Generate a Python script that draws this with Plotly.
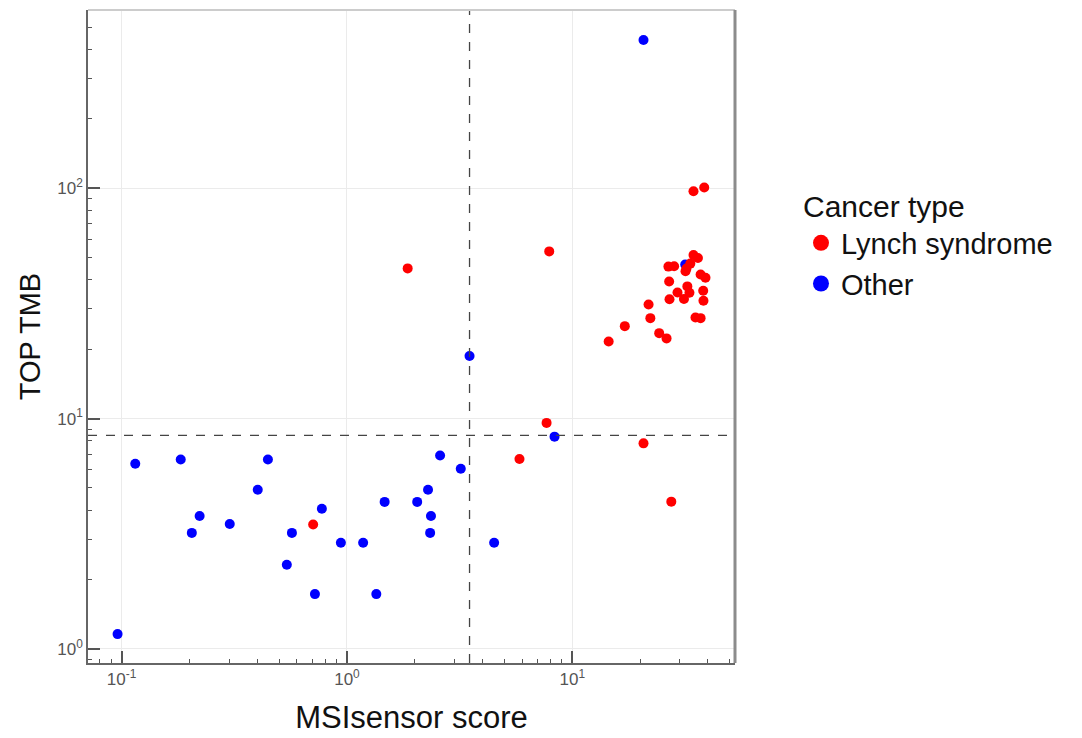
import plotly.graph_objects as go

# MSIsensor score vs TOP TMB, split by cancer type
other_msi = [20.7, 31.7, 3.50, 8.34, 0.115, 0.183, 0.446, 2.59, 3.20, 0.402, 2.29,
             1.47, 2.05, 0.774, 0.222, 2.36, 0.302, 0.205, 0.57, 2.34, 0.94, 1.18,
             4.5, 0.541, 0.721, 1.35, 0.096]
other_tmb = [440, 46.7, 18.7, 8.35, 6.37, 6.64, 6.64, 6.92, 6.06, 4.91, 4.91,
             4.35, 4.35, 4.06, 3.78, 3.78, 3.49, 3.19, 3.19, 3.19, 2.89, 2.89,
             2.89, 2.32, 1.73, 1.73, 1.16]

lynch_msi = [0.708, 1.86, 7.9, 7.69, 5.83, 20.7, 27.5, 14.5,
             38.5, 34.5, 34.5, 36.1, 26.7, 28.3, 33.4, 32.1, 31.8, 37.1, 39.0,
             26.9, 38.1, 32.4, 29.3, 33.1, 31.3, 27.0, 38.2, 21.8, 22.2, 35.2,
             37.1, 17.1, 24.3, 26.2]
lynch_tmb = [3.47, 44.9, 53.2, 9.58, 6.68, 7.81, 4.36, 21.6,
             100.7, 97.0, 51.3, 49.8, 45.7, 45.9, 47.1, 44.8, 43.6, 42.2, 40.9,
             39.4, 35.9, 37.5, 35.3, 35.2, 33.1, 33.0, 32.5, 31.3, 27.3, 27.5,
             27.3, 25.2, 23.5, 22.3]

msi_cutoff = 3.5
tmb_cutoff = 8.45

x_tickvals = [0.1, 1, 10]
x_ticktext = ["10<sup>-1</sup>", "10<sup>0</sup>", "10<sup>1</sup>"]
y_tickvals = [1, 10, 100]
y_ticktext = ["10<sup>0</sup>", "10<sup>1</sup>", "10<sup>2</sup>"]

RED = "#FF0000"
BLUE = "#0000FF"
FONT = "Arial, Liberation Sans, sans-serif"

fig = go.Figure()

fig.add_trace(go.Scatter(x=other_msi, y=other_tmb, mode="markers", name="Other",
                         marker=dict(color=BLUE, size=10, line=dict(width=0)),
                         showlegend=False))
fig.add_trace(go.Scatter(x=lynch_msi, y=lynch_tmb, mode="markers", name="Lynch syndrome",
                         marker=dict(color=RED, size=10, line=dict(width=0)),
                         showlegend=False))

# legend entries with larger keys
for name, col in [("Lynch syndrome", RED), ("Other", BLUE)]:
    fig.add_trace(go.Scatter(x=[None], y=[None], mode="markers", name=name,
                             marker=dict(color=col, size=16, line=dict(width=0)),
                             showlegend=True))

fig.add_vline(x=msi_cutoff, line=dict(color="#444444", width=1.3, dash="dash"))
fig.add_hline(y=tmb_cutoff, line=dict(color="#444444", width=1.3, dash="dash"))

# frame: light top edge, heavier right edge
fig.add_shape(type="line", xref="paper", yref="paper", x0=0, x1=1, y0=1, y1=1,
              line=dict(color="#cccccc", width=2))
fig.add_shape(type="line", xref="paper", yref="paper", x0=1, x1=1, y0=0, y1=1,
              line=dict(color="#8c8c8c", width=3))

axis_common = dict(
    type="log",
    showgrid=True,
    gridcolor="#ebebeb",
    gridwidth=1,
    zeroline=False,
    showline=True,
    linecolor="#666666",
    linewidth=1.5,
    ticks="inside",
    ticklen=12,
    tickwidth=1.5,
    tickcolor="#555555",
    tickfont=dict(family=FONT, size=17, color="#555555"),
    minor=dict(ticks="inside", ticklen=4, tickwidth=1, tickcolor="#555555",
               tickmode="linear", dtick="D1", showgrid=False),
)

fig.update_xaxes(**axis_common, range=[-1.149, 1.722],
                 tickmode="array", tickvals=x_tickvals, ticktext=x_ticktext,
                 title=dict(text="MSIsensor score", font=dict(family=FONT, size=31, color="#111111"),
                            standoff=18))
fig.update_yaxes(**axis_common, range=[-0.061, 2.774],
                 tickmode="array", tickvals=y_tickvals, ticktext=y_ticktext,
                 title=dict(text="TOP TMB", font=dict(family=FONT, size=29, color="#111111"),
                            standoff=8))

fig.update_layout(
    width=1082, height=738,
    margin=dict(l=88, r=347, t=10, b=75, autoexpand=False),
    paper_bgcolor="white", plot_bgcolor="white",
    font=dict(family=FONT),
    legend=dict(
        title=dict(text="Cancer type", font=dict(family=FONT, size=30, color="#111111")),
        font=dict(family=FONT, size=29, color="#111111"),
        x=1.102, xanchor="left", y=0.742, yanchor="top",
        bgcolor="rgba(0,0,0,0)", itemclick=False, tracegroupgap=0,
    ),
)

fig.write_html("out.html")
